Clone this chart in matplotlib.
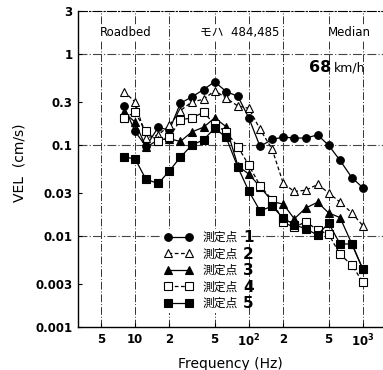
import matplotlib
matplotlib.use('Agg')
import matplotlib.pyplot as plt
from matplotlib.ticker import FixedLocator, NullLocator

plt.rcParams['font.family'] = ['DejaVu Sans', 'Noto Sans CJK JP']

# 1/3 octave band centre frequencies (Hz)
freqs = [8, 10, 12.5, 16, 20, 25, 31.5, 40, 50, 63, 80, 100,
         125, 160, 200, 250, 315, 400, 500, 630, 800, 1000]

pt1 = [0.27, 0.142, 0.097, 0.158, 0.146, 0.29, 0.34, 0.41, 0.50, 0.39, 0.345, 0.198,
       0.097, 0.116, 0.123, 0.12, 0.12, 0.13, 0.10, 0.068, 0.044, 0.034]
pt2 = [0.39, 0.30, 0.12, 0.13, 0.165, 0.24, 0.30, 0.32, 0.40, 0.33, 0.27, 0.255,
       0.15, 0.09, 0.038, 0.031, 0.032, 0.037, 0.030, 0.0236, 0.018, 0.013]
pt3 = [0.23, 0.18, 0.095, 0.115, 0.118, 0.11, 0.14, 0.158, 0.20, 0.16, 0.059, 0.048,
       0.035, 0.024, 0.0225, 0.0155, 0.0204, 0.0236, 0.018, 0.016, 0.0082, 0.0043]
pt4 = [0.20, 0.23, 0.142, 0.11, 0.122, 0.19, 0.20, 0.23, 0.17, 0.14, 0.096, 0.06,
       0.036, 0.025, 0.0142, 0.0125, 0.0144, 0.0117, 0.0105, 0.0063, 0.0048, 0.0031]
pt5 = [0.074, 0.071, 0.042, 0.038, 0.052, 0.074, 0.10, 0.115, 0.154, 0.122, 0.057, 0.031,
       0.019, 0.0213, 0.0157, 0.0134, 0.012, 0.0103, 0.0139, 0.0082, 0.0082, 0.0043]

series = [pt1, pt2, pt3, pt4, pt5]
point_names = ['1', '2', '3', '4', '5']

yticks = [0.001, 0.003, 0.01, 0.03, 0.1, 0.3, 1, 3]
ytick_labels = ['0.001', '0.003', '0.01', '0.03', '0.1', '0.3', '1', '3']
xticks = [5, 10, 20, 50, 100, 200, 500, 1000]
xtick_labels = ['5', '10', '2', '5', r'$\mathbf{10^2}$', '2', '5', r'$\mathbf{10^3}$']

W, H = 383, 370
fig = plt.figure(figsize=(W / 100, H / 100), dpi=100)
ax = fig.add_axes([78 / W, 1 - 327 / H, 305 / W, 316 / H])

styles = [
    dict(marker='o', ls='-', mfc='black'),
    dict(marker='^', ls=(0, (3, 2)), mfc='white'),
    dict(marker='^', ls='-', mfc='black'),
    dict(marker='s', ls=(0, (3, 2)), mfc='white'),
    dict(marker='s', ls='-', mfc='black'),
]

handles = []
for vals, st in zip(series, styles):
    h, = ax.plot(freqs, vals, color='black', lw=0.9, ms=5.5, mec='black',
                 mew=0.8, zorder=3, **st)
    handles.append(h)

ax.set_xscale('log')
ax.set_yscale('log')
ax.set_xlim(3.16, 1500)
ax.set_ylim(0.001, 3)

ax.xaxis.set_major_locator(FixedLocator(xticks))
ax.xaxis.set_minor_locator(NullLocator())
ax.set_xticklabels(xtick_labels, fontweight='bold', fontsize=8.5)
ax.yaxis.set_major_locator(FixedLocator(yticks))
ax.yaxis.set_minor_locator(NullLocator())
ax.set_yticklabels(ytick_labels, fontweight='bold', fontsize=8.5)
ax.tick_params(direction='in', length=3, width=0.8, pad=4)

# grid lines
for xv in xticks:
    ax.axvline(xv, color='#333333', lw=0.7, ls=(0, (8, 2, 1, 2)), zorder=1)
for yv in [1, 0.1, 0.01]:
    ax.axhline(yv, color='#444444', lw=0.8, ls=(0, (8, 2, 1, 2)), zorder=1)

ax.spines['right'].set_visible(False)
ax.spines['top'].set_linestyle((0, (8, 2, 1, 2)))
ax.spines['top'].set_linewidth(0.8)
ax.spines['left'].set_linewidth(1.0)
ax.spines['bottom'].set_linewidth(1.0)

# header texts
ax.text((126 - 78) / 305, (327 - 33) / 316, 'Roadbed', transform=ax.transAxes,
        ha='center', va='center', fontsize=8.5,
        bbox=dict(fc='white', ec='none', pad=1))
ax.text((240 - 78) / 305, (327 - 33) / 316, 'モハ  484,485', transform=ax.transAxes,
        ha='center', va='center', fontsize=8.5,
        bbox=dict(fc='white', ec='none', pad=1))
ax.text((349 - 78) / 305, (327 - 33) / 316, 'Median', transform=ax.transAxes,
        ha='center', va='center', fontsize=8.5,
        bbox=dict(fc='white', ec='none', pad=1))
ax.text((331 - 78) / 305, (327 - 68) / 316, '68', transform=ax.transAxes,
        ha='right', va='center', fontsize=11.5, fontweight='bold')
ax.text((334 - 78) / 305, (327 - 68) / 316, 'km/h', transform=ax.transAxes,
        ha='left', va='center', fontsize=9)

ax.set_xlabel('Frequency (Hz)', fontsize=10, labelpad=6)
ax.set_ylabel('VEL  (cm/s)', fontsize=10)
ax.yaxis.set_label_coords(-0.17, 0.52)

leg = ax.legend(handles, ['測定点'] * 5, loc='upper left',
                bbox_to_anchor=(0.255, 0.33), frameon=True, framealpha=1,
                edgecolor='none', fontsize=8.5, numpoints=2, handlelength=2.4,
                handletextpad=0.9, labelspacing=0.3, borderpad=0.2)
leg.set_zorder(4)

fig.canvas.draw()
for txt, num in zip(leg.get_texts(), point_names):
    bb = txt.get_window_extent()
    fig.text((bb.x1 + 5) / W, (bb.y0 + bb.y1) / 2 / H, num, ha='left', va='center',
             fontsize=11, fontweight='bold', zorder=5)

fig.savefig('out.png', dpi=100)
